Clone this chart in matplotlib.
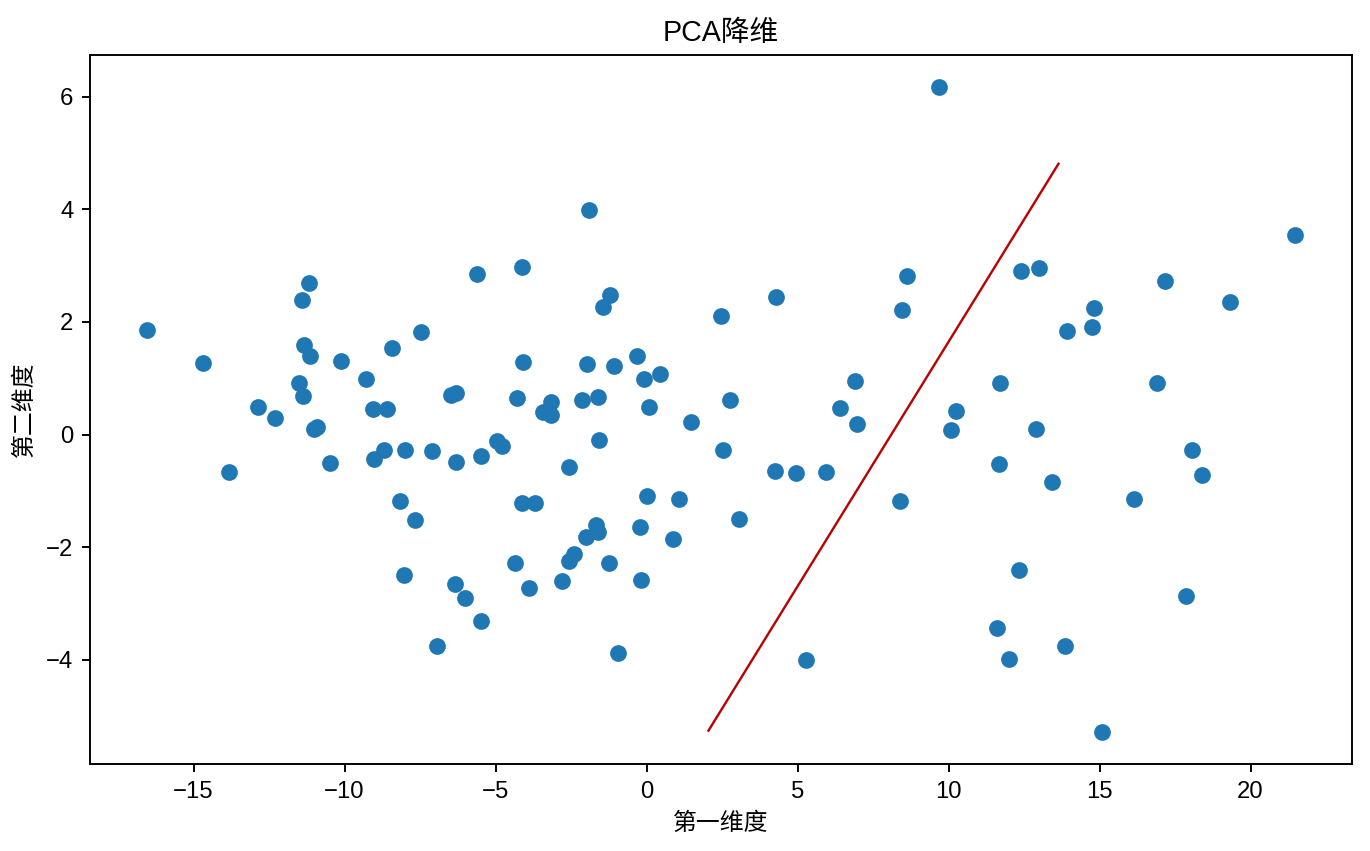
import numpy as np
import matplotlib.pyplot as plt

plt.rcParams['font.family'] = ['Liberation Sans', 'Noto Sans CJK SC', 'DejaVu Sans']

# first principal component
pc1 = [-16.53, -14.69, -11.18, -11.40, -11.35, -11.13, -10.12, -8.44, -9.30, -11.50,
       -11.38, -12.85, -12.31, -9.06, -8.59, -11.02, -10.92, -13.84, -10.47, -9.03,
       -8.68, -7.99, -8.15, -7.66, -8.04,
       -1.89, -5.63, -4.12, -1.20, -1.43, -7.48, 2.48, -4.08, -1.98, -1.09,
       -0.32, -0.07, 0.45, -6.49, -6.30, -4.29, -3.16, -3.43, -3.16, -2.15,
       -1.61, 0.08, 1.46,
       -7.10, -6.32, -5.47, -4.94, -4.79, -1.59, -2.58, -4.13, -3.71, 0.00,
       1.06, -1.69, -1.61, -2.00, -0.22, 0.88, -2.41, -2.57, -4.37, -1.26,
       -6.33, -6.00, -3.88, -2.80, -0.20, -5.47, -6.95, -0.95,
       9.67, 8.63, 8.45, 4.28, 12.41, 6.90, 11.72, 2.77, 6.39, 10.26,
       6.96, 10.07, 2.52, 4.26, 4.95, 5.93, 11.66, 3.05, 8.38, 12.34,
       11.61, 12.01, 5.29,
       12.99, 21.46, 17.16, 19.33, 14.80, 14.74, 13.93, 16.91,
       12.90, 18.05, 18.39, 13.41, 16.14, 17.87, 13.87, 15.09]
# second principal component
pc2 = [1.86, 1.27, 2.69, 2.39, 1.59, 1.39, 1.31, 1.54, 0.99, 0.91,
       0.69, 0.49, 0.30, 0.46, 0.46, 0.10, 0.13, -0.66, -0.50, -0.43,
       -0.28, -0.28, -1.18, -1.51, -2.50,
       3.99, 2.85, 2.97, 2.48, 2.26, 1.82, 2.10, 1.29, 1.26, 1.21,
       1.40, 0.98, 1.07, 0.70, 0.74, 0.65, 0.58, 0.40, 0.35, 0.62,
       0.67, 0.49, 0.22,
       -0.30, -0.49, -0.38, -0.11, -0.21, -0.10, -0.58, -1.22, -1.22, -1.10,
       -1.14, -1.60, -1.74, -1.82, -1.65, -1.85, -2.12, -2.25, -2.29, -2.28,
       -2.66, -2.91, -2.72, -2.60, -2.58, -3.32, -3.75, -3.88,
       6.17, 2.82, 2.22, 2.44, 2.91, 0.95, 0.91, 0.62, 0.47, 0.41,
       0.19, 0.08, -0.27, -0.64, -0.68, -0.66, -0.52, -1.50, -1.18, -2.41,
       -3.43, -3.99, -4.01,
       2.95, 3.55, 2.72, 2.36, 2.25, 1.91, 1.84, 0.92,
       0.09, -0.28, -0.71, -0.84, -1.14, -2.87, -3.76, -5.28]

# separating line
line_x = [2.05, 13.64]
line_y = [-5.26, 4.81]

fig = plt.figure(figsize=(1370 / 172, 851 / 172), dpi=172)
ax = fig.add_axes([90 / 1370, 87 / 851, 1262 / 1370, 709 / 851])
ax.scatter(pc1, pc2)
ax.plot(line_x, line_y, color='#bb0000', linewidth=1)
ax.set_title('PCA降维')
ax.set_xlabel('第一维度')
ax.set_ylabel('第二维度')
fig.savefig('out.png', dpi=172)
